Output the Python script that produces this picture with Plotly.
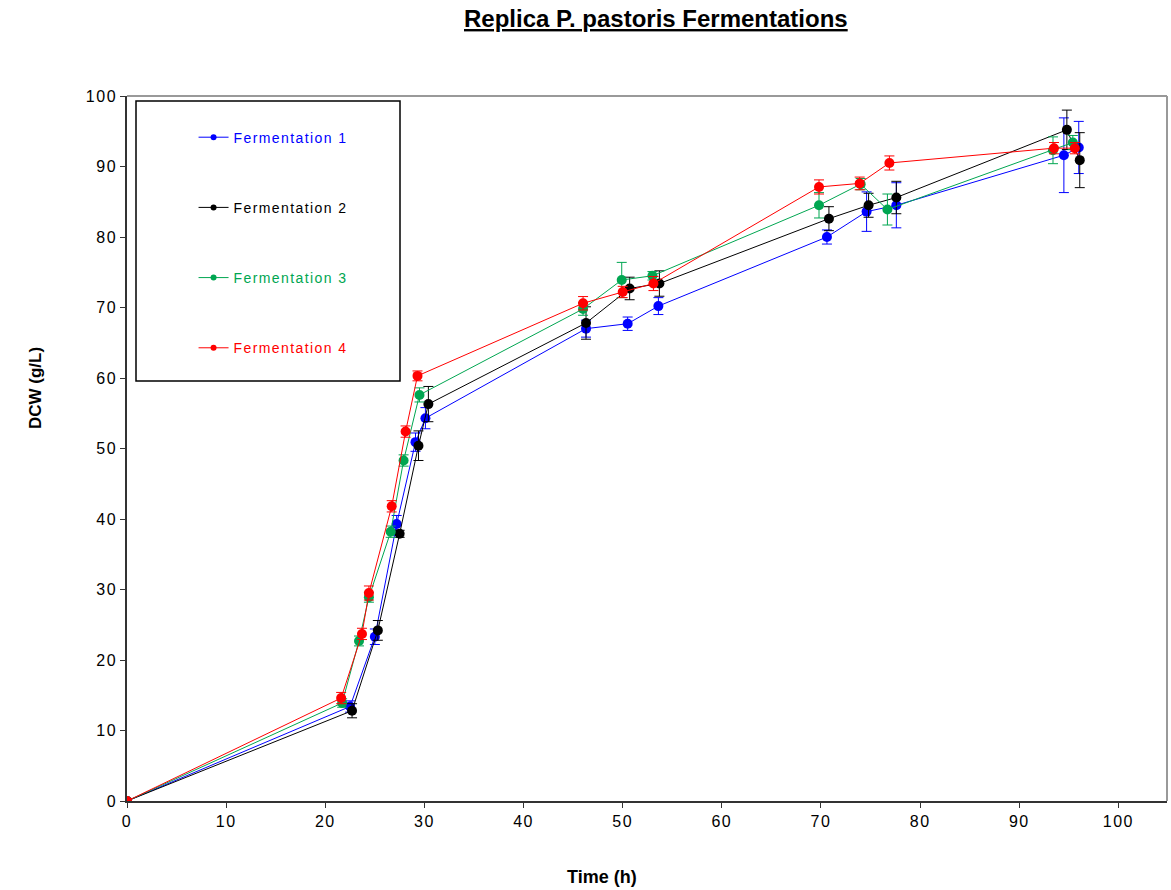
import plotly.graph_objects as go

# ---- data ----
f1_t = [0, 22.5, 25.0, 27.2, 29.1, 30.1, 46.3, 50.5, 53.6, 70.6, 74.6, 77.6, 94.5, 96.0]
f1_y = [0, 13.4, 23.3, 39.3, 50.9, 54.3, 67.0, 67.7, 70.2, 80.0, 83.6, 84.5, 91.6, 92.7]
f1_e = [0.3, 0.8, 1.1, 1.2, 1.3, 1.5, 1.2, 0.95, 1.2, 1.0, 2.8, 3.2, 5.3, 3.7]

f2_t = [0, 22.7, 25.3, 27.5, 29.4, 30.4, 46.3, 50.7, 53.7, 70.8, 74.8, 77.6, 94.8, 96.1]
f2_y = [0, 12.8, 24.2, 37.9, 50.4, 56.3, 67.8, 72.7, 73.4, 82.6, 84.5, 85.6, 95.2, 90.9]
f2_e = [0.3, 1.0, 1.4, 0.5, 2.1, 2.5, 2.3, 1.6, 1.8, 1.7, 1.7, 2.3, 2.8, 3.9]

f3_t = [0, 21.7, 23.4, 24.4, 26.6, 27.9, 29.5, 46.0, 49.9, 53.0, 69.8, 74.0, 76.7, 93.4, 95.4]
f3_y = [0, 13.9, 22.7, 28.9, 38.2, 48.3, 57.6, 69.8, 73.9, 74.5, 84.5, 87.5, 83.9, 92.3, 93.4]
f3_e = [0.3, 0.6, 0.7, 0.7, 0.8, 0.8, 1.0, 0.9, 2.5, 0.6, 1.8, 0.8, 2.2, 1.9, 1.0]

f4_t = [0, 21.6, 23.7, 24.4, 26.7, 28.1, 29.3, 46.0, 50.0, 53.1, 69.8, 73.9, 76.9, 93.5, 95.6]
f4_y = [0, 14.6, 23.7, 29.5, 41.8, 52.4, 60.3, 70.6, 72.2, 73.4, 87.1, 87.6, 90.5, 92.6, 92.6]
f4_e = [0.3, 0.8, 0.8, 1.0, 0.8, 0.8, 0.7, 0.95, 0.8, 1.0, 1.0, 0.9, 1.0, 0.8, 0.8]

names = ["Fermentation 1", "Fermentation 2", "Fermentation 3", "Fermentation 4"]
colors = ["#0000FF", "#000000", "#00A651", "#FF0000"]
series = [(f1_t, f1_y, f1_e), (f2_t, f2_y, f2_e), (f3_t, f3_y, f3_e), (f4_t, f4_y, f4_e)]

x_ticks = list(range(0, 101, 10))
y_ticks = list(range(0, 101, 10))


def spaced(v):
    return f"<span style='letter-spacing:1.5px'>{v}</span>"


fig = go.Figure()
for (t, y, e), name, col in zip(series, names, colors):
    fig.add_trace(go.Scatter(
        x=t, y=y, mode="lines+markers",
        name=name, showlegend=False, legendgroup=name,
        line=dict(color=col, width=1),
        marker=dict(color=col, size=10),
        error_y=dict(type="data", array=e, visible=True, color=col, thickness=1, width=5),
    ))
# legend entries (small markers, thin lines, coloured text)
for name, col in zip(names, colors):
    fig.add_trace(go.Scatter(
        x=[None], y=[None], mode="lines+markers",
        name=f"<span style='color:{col};letter-spacing:1.4px'>{name}</span>",
        legendgroup=name, showlegend=True,
        line=dict(color=col, width=1),
        marker=dict(color=col, size=6),
    ))

fig.update_layout(
    width=1171, height=890,
    margin=dict(l=127, r=4, t=96, b=89),
    paper_bgcolor="white", plot_bgcolor="white",
    font=dict(family="Arial, Liberation Sans, sans-serif", size=14, color="black"),
    showlegend=True,
    legend=dict(
        x=0.064, y=0.9637, xanchor="left", yanchor="top",
        bgcolor="rgba(0,0,0,0)", borderwidth=0,
        tracegroupgap=49,
        font=dict(size=14, family="Arial, Liberation Sans, sans-serif"),
    ),
    xaxis=dict(
        range=[0, 104.9], tickvals=x_ticks, ticktext=[spaced(v) for v in x_ticks],
        showgrid=False, zeroline=False, showline=True, linecolor="#333333", linewidth=1.5,
        ticks="outside", ticklen=5, tickcolor="#333333", tickfont=dict(size=16),
    ),
    yaxis=dict(
        range=[0, 100], tickvals=y_ticks, ticktext=[spaced(v) for v in y_ticks],
        showgrid=False, zeroline=False, showline=True, linecolor="#333333", linewidth=1.5,
        ticks="outside", ticklen=5, tickcolor="#333333", tickfont=dict(size=16),
    ),
    shapes=[
        dict(type="line", xref="paper", yref="paper", x0=0, x1=1, y0=1, y1=1,
             line=dict(color="#999999", width=2)),
        dict(type="line", xref="paper", yref="paper", x0=1, x1=1, y0=0, y1=1,
             line=dict(color="#999999", width=2)),
        dict(type="rect", xref="paper", yref="paper",
             x0=(136 - 127) / 1040, x1=(400 - 127) / 1040,
             y0=(801 - 381) / 705, y1=(801 - 101) / 705,
             line=dict(color="black", width=1.5), fillcolor="rgba(0,0,0,0)"),
    ],
    annotations=[
        dict(text="<b><u>Replica P. pastoris Fermentations</u></b>", xref="paper", yref="paper",
             x=(656 - 127) / 1040, y=(801 - 18) / 705, showarrow=False,
             font=dict(size=24), xanchor="center", yanchor="middle"),
        dict(text="<b>Time (h)</b>", xref="paper", yref="paper",
             x=(602 - 127) / 1040, y=(801 - 877) / 705, showarrow=False,
             font=dict(size=18), xanchor="center", yanchor="middle"),
        dict(text="<b>DCW (g/L)</b>", xref="paper", yref="paper",
             x=(35 - 127) / 1040, y=(801 - 388) / 705, showarrow=False, textangle=-90,
             font=dict(size=17), xanchor="center", yanchor="middle"),
    ],
)

fig.write_html("out.html")
